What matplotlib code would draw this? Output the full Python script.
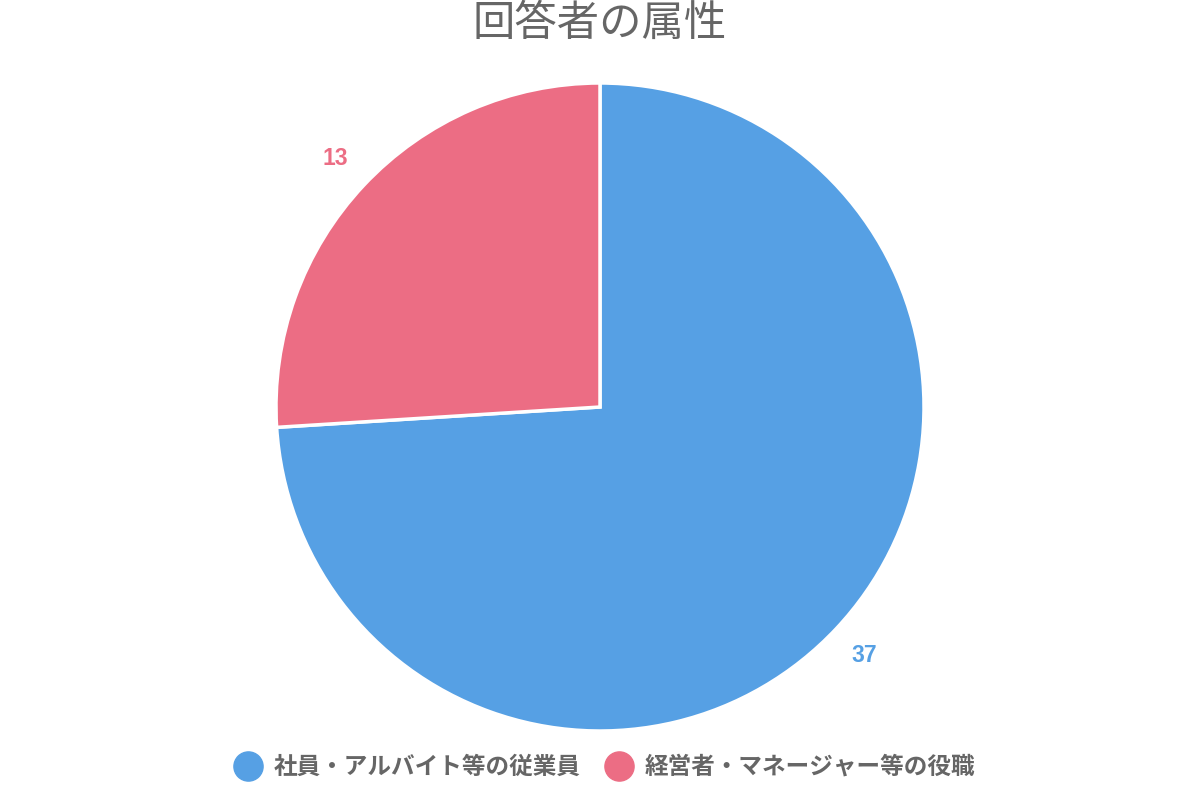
#!/usr/bin/env python3
"""Pie chart of respondent attributes (回答者の属性)"""

import matplotlib
matplotlib.use('Agg')
import matplotlib.pyplot as plt
from matplotlib.lines import Line2D
import numpy as np

plt.rcParams['font.family'] = ['Noto Sans CJK JP', 'DejaVu Sans']

title = '回答者の属性'
categories = ['社員・アルバイト等の従業員', '経営者・マネージャー等の役職']
counts = [37, 13]
colors = ['#56A0E4', '#EC6D84']
text_gray = '#666666'

fig = plt.figure(figsize=(12, 8), dpi=100)
ax = fig.add_axes([0, 0, 1, 1])
ax.set_xlim(0, 1200)
ax.set_ylim(0, 800)
ax.set_aspect('equal')
ax.axis('off')

center = (600, 393)
radius = 324
wedges, _ = ax.pie(counts, colors=colors, startangle=90, counterclock=False,
                   center=center, radius=radius,
                   wedgeprops=dict(edgecolor='white', linewidth=2.5))
ax.set_xlim(0, 1200)
ax.set_ylim(0, 800)

# value labels just outside each slice
for w, val, col in zip(wedges, counts, colors):
    mid = np.deg2rad((w.theta1 + w.theta2) / 2)
    r = radius * 1.12
    ax.text(center[0] + r * np.cos(mid), center[1] + r * np.sin(mid), str(val),
            ha='center', va='center', fontsize=16.5, fontweight='bold', color=col,
            family=['Liberation Sans', 'DejaVu Sans'])

fig.text(0.5, 1 - 24 / 800, title, ha='center', va='center', fontsize=30.5, color=text_gray)

handles = [Line2D([], [], marker='o', linestyle='none', markersize=21,
                  markerfacecolor=c, markeredgecolor=c) for c in colors]
fig.legend(handles, categories, loc='center', bbox_to_anchor=(0.5, 33 / 800),
           ncol=2, frameon=False, handletextpad=0.1, columnspacing=0.6,
           prop=dict(size=17, weight='bold'), labelcolor=text_gray)

fig.savefig('out.png', dpi=100)
